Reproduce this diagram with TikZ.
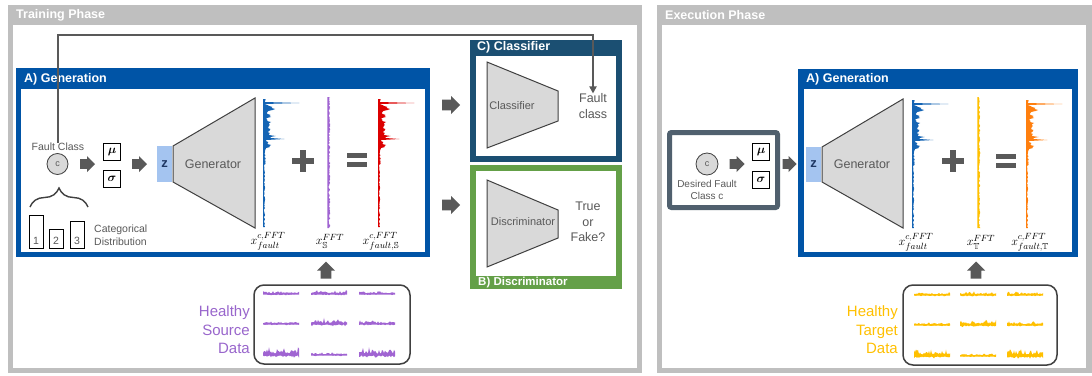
\documentclass[tikz,border=0pt]{standalone}
\usepackage{amsmath,amssymb}
\usepackage{fontspec}
\setmainfont{Liberation Sans}
\usetikzlibrary{decorations.pathreplacing,arrows.meta}

\definecolor{panelgray}{RGB}{191,191,191}
\definecolor{genblue}{RGB}{0,84,166}
\definecolor{clsteal}{RGB}{27,79,114}
\definecolor{discgreen}{RGB}{100,160,72}
\definecolor{slate}{RGB}{80,96,110}
\definecolor{arrowgray}{RGB}{89,89,89}
\definecolor{labelgray}{RGB}{89,89,89}
\definecolor{trapfill}{RGB}{217,217,217}
\definecolor{trapdraw}{RGB}{64,64,64}
\definecolor{zblue}{RGB}{164,196,240}
\definecolor{zdark}{RGB}{31,56,100}
\definecolor{sigblue}{RGB}{20,100,180}
\definecolor{sigpurple}{RGB}{160,100,210}
\definecolor{txtpurple}{RGB}{153,102,204}
\definecolor{sigred}{RGB}{220,0,0}
\definecolor{sigyellow}{RGB}{255,192,0}
\definecolor{sigorange}{RGB}{255,127,14}

% triangular bump of half-width w centred on c
\pgfmathdeclarefunction{tri}{3}{\pgfmathparse{max(0,1-abs(#1-#2)/#3)}}

% fault spectrum drawn downwards from (x0,ytop): x0, ytop, colour, seed
\newcommand{\faultspec}[4]{%
  \pgfmathsetseed{#4}%
  \fill[#3] (#1,#2) -- plot[domain=0:128, samples=129, variable=\t]
    ({#1 + 34*tri(\t,4,0.8) + 18*tri(\t,40,0.8)
       + (2.2 + 11*tri(\t,10,5) + 9*tri(\t,17,4) + 10*tri(\t,24,4) + 8*tri(\t,31,4)
          + 9*tri(\t,37,4) + 7*tri(\t,46,5) + 2.5*tri(\t,30,40))*(0.4+0.6*rnd)},
     {#2+\t})
    -- (#1,#2+128) -- cycle;}

% healthy spectrum: thin noisy line: x0, ytop, colour, seed
\newcommand{\healthspec}[4]{%
  \pgfmathsetseed{#4}%
  \fill[#3] (#1-0.7,#2) -- plot[domain=0:131, samples=132, variable=\t]
    ({#1+0.5+1.8*rnd},{#2+\t}) -- (#1-0.7,#2+131) -- cycle;}

% short horizontal time trace: x0, baseline y, amplitude, colour, seed
\newcommand{\healthtrace}[5]{%
  \pgfmathsetseed{#5}%
  \fill[#4] plot[domain=0:36, samples=37, variable=\t]
      ({#1+\t},{#2-0.5-#3*(0.12+0.88*rnd*rnd)})
    -- plot[domain=36:0, samples=37, variable=\t]
      ({#1+\t},{#2+0.5+0.3*#3*rnd*rnd}) -- cycle;}

% solid block arrow: name, centre, direction angle, length, width
\newcommand{\blockarrow}[5]{%
  \coordinate (#1) at (#2);
  \fill[arrowgray, shift={(#2)}, rotate=#3]
    (-#4/2,-0.3*#5) -- (#4/2-0.5*#5,-0.3*#5) -- (#4/2-0.5*#5,-0.5*#5) -- (#4/2,0)
    -- (#4/2-0.5*#5,0.5*#5) -- (#4/2-0.5*#5,0.3*#5) -- (-#4/2,0.3*#5) -- cycle;}

\tikzset{
  phasetitle/.style={font=\fontsize{12.5}{14}\selectfont\bfseries, text=white, anchor=west, inner sep=0pt},
  boxtitle/.style={font=\fontsize{12.5}{14}\selectfont\bfseries, text=white, anchor=west, inner sep=0pt},
  lbl/.style={font=\fontsize{10.5}{12.5}\selectfont, text=labelgray, inner sep=0pt, align=center},
  biglbl/.style={font=\fontsize{12.5}{15.5}\selectfont, text=labelgray, inner sep=0pt, align=center},
  netlbl/.style={font=\fontsize{11}{13}\selectfont, text=labelgray, inner sep=0pt},
  gentext/.style={font=\fontsize{12.5}{14}\selectfont, text=labelgray, inner sep=0pt},
  datalbl/.style={font=\fontsize{15}{18.5}\selectfont, inner sep=0pt, align=right, anchor=east},
  cnode/.style={circle, fill=trapfill, draw=trapdraw, line width=0.8pt, minimum size=21pt,
    inner sep=0pt, font=\fontsize{9}{9}\selectfont, text=labelgray},
  parbox/.style={draw=black, line width=0.9pt, fill=white, minimum size=17pt, inner sep=0pt,
    font=\fontsize{13}{13}\selectfont},
  zbox/.style={fill=zblue, minimum width=15pt, minimum height=36pt, inner sep=0pt,
    font=\fontsize{13}{13}\selectfont\bfseries, text=zdark},
  trap/.style={fill=trapfill, draw=trapdraw, line width=1pt, line join=miter},
  databox/.style={draw=trapdraw, line width=1.5pt, rounded corners=10pt, inner sep=0pt},
  mathlbl/.style={font=\fontsize{12.5}{14}\selectfont, inner sep=0pt},
  feedback/.style={draw=arrowgray, line width=2pt, -{Triangle[length=7pt,width=7pt]}},
}

\begin{document}
\begin{tikzpicture}[x=1pt, y=-1pt]
\useasboundingbox (0,0) rectangle (1092,375);

% ---------------- training phase panel ----------------
\fill[panelgray] (8,5) rectangle (642,373);
\fill[white] (13,25) rectangle (637,368);
\node[phasetitle] (trainT) at (16,15) {Training Phase};

% generation block
\fill[genblue] (16,68) rectangle (430,257);
\fill[white] (21,89) rectangle (425,252);
\node[boxtitle] (genT) at (24,79) {A) Generation};

% classifier block
\fill[clsteal] (470,40) rectangle (622,162);
\fill[white] (476,56) rectangle (616,156);
\node[boxtitle] (clsT) at (477,47) {C) Classifier};

% discriminator block
\fill[discgreen] (470,165) rectangle (622,289);
\fill[white] (476,171) rectangle (616,276);
\node[boxtitle, font=\fontsize{11.5}{13}\selectfont\bfseries] (discT) at (478,283) {B) Discriminator};

% fault class input and categorical distribution
\node[lbl] (fcl) at (58,147) {Fault Class};
\node[cnode] (c1) at (57.5,164) {c};
\draw[decorate, decoration={brace, amplitude=19pt}, draw=trapdraw, line width=1.4pt]
  (30,207) -- (88,207);
\draw[black, line width=0.9pt] (29,215) rectangle (43,248);
\draw[black, line width=0.9pt] (49,229) rectangle (63,248);
\draw[black, line width=0.9pt] (70,221) rectangle (84,248);
\node[lbl] (n1) at (36,241) {1};
\node[lbl] (n2) at (56,241) {2};
\node[lbl] (n3) at (77,241) {3};
\node[lbl, align=left, anchor=west] (catd) at (94,235) {Categorical\\Distribution};

% latent sampling and generator
\blockarrow{a1}{87.5,164}{0}{15}{16}
\node[parbox] (mu1) at (112,151.5) {$\boldsymbol{\mu}$};
\node[parbox] (sg1) at (112,179) {$\boldsymbol{\sigma}$};
\blockarrow{a2}{139.5,164}{0}{15}{16}
\node[zbox] (z1) at (164.5,164) {z};
\draw[trap] (173,146) -- (255,98) -- (255,228) -- (173,182) -- cycle;
\node[gentext] (g1) at (213,164) {Generator};

% spectra
\faultspec{263}{99}{sigblue}{11}
\healthspec{328}{97}{sigpurple}{5}
\faultspec{378}{99}{sigred}{11}
\fill[arrowgray] (292,158) rectangle (314,164);
\fill[arrowgray] (300,150) rectangle (306,172);
\fill[arrowgray] (347,153) rectangle (367,158);
\fill[arrowgray] (347,162) rectangle (367,167);
\node[mathlbl] (lf1) at (268,241) {$x^{c,FFT}_{fault}$};
\node[mathlbl] (ls1) at (330,241) {$x^{FFT}_{\mathbb{S}}$};
\node[mathlbl] (lr1) at (381,241) {$x^{c,FFT}_{fault,\mathbb{S}}$};

% arrows into the classifier and the discriminator
\blockarrow{toC}{451,105}{0}{18}{18}
\blockarrow{toD}{451,205}{0}{18}{18}

% classifier
\draw[trap] (487,62) -- (558,91) -- (558,121) -- (487,148) -- cycle;
\node[netlbl] (clsN) at (512,106) {Classifier};
\node[biglbl] (fclass) at (593,106) {Fault\\class};

% discriminator
\draw[trap] (487,180) -- (558,210) -- (558,238) -- (487,267) -- cycle;
\node[netlbl] (discN) at (523,222) {Discriminator};
\node[biglbl] (tof) at (588,222) {True\\or\\Fake?};

% label feedback from the fault class to the classifier
\coordinate (fbtop) at (0,35);
\draw[feedback] (fcl.north) -- (fcl.north |- fbtop) -- (fclass.north |- fbtop) -- (fclass.north);

% healthy source data
\blockarrow{up1}{326,270}{90}{17}{18}
\node[databox, minimum width=156pt, minimum height=79pt] (src) at (332,324.5) {};
\node[datalbl, text=txtpurple] (srcT) at (250,330) {Healthy\\Source\\Data};
\healthtrace{263}{294}{3}{sigpurple}{21}
\healthtrace{311}{294}{4}{sigpurple}{22}
\healthtrace{359}{294}{3}{sigpurple}{23}
\healthtrace{263}{324}{2.5}{sigpurple}{24}
\healthtrace{311}{324}{6}{sigpurple}{25}
\healthtrace{359}{324}{3.5}{sigpurple}{26}
\healthtrace{263}{355}{8}{sigpurple}{27}
\healthtrace{311}{355}{2.5}{sigpurple}{28}
\healthtrace{359}{355}{8}{sigpurple}{29}

% ---------------- execution phase panel ----------------
\fill[panelgray] (657,5) rectangle (1092,373);
\fill[white] (662,25) rectangle (1086,368);
\node[phasetitle] (execT) at (665,15) {Execution Phase};

% desired fault class block
\draw[slate, line width=5pt, rounded corners=2pt, fill=white] (669.5,132.5) rectangle (777.5,207.5);
\node[cnode, minimum size=22pt] (c2) at (707,164) {c};
\node[lbl, font=\fontsize{10}{12.5}\selectfont] (dfc) at (707,190) {Desired Fault\\Class c};
\blockarrow{a3}{737,164}{0}{15}{16}
\node[parbox] (mu2) at (761,152) {$\boldsymbol{\mu}$};
\node[parbox] (sg2) at (761,179.5) {$\boldsymbol{\sigma}$};
\blockarrow{a4}{789.5,164}{0}{14}{16}

% generation block
\fill[genblue] (798,69) rectangle (1078,257);
\fill[white] (804,89) rectangle (1072,252);
\node[boxtitle] (genT2) at (806,79) {A) Generation};
\node[zbox, minimum height=35pt] (z2) at (813.5,164.5) {z};
\draw[trap] (822,147) -- (903,99) -- (903,228) -- (822,182) -- cycle;
\node[gentext] (g2) at (862,164) {Generator};

\faultspec{912}{100}{sigblue}{11}
\healthspec{978}{97}{sigyellow}{6}
\faultspec{1026}{100}{sigorange}{11}
\fill[arrowgray] (942,158) rectangle (964,164);
\fill[arrowgray] (950,150) rectangle (956,172);
\fill[arrowgray] (996,154) rectangle (1016,159);
\fill[arrowgray] (996,163) rectangle (1016,168);
\node[mathlbl] (lf2) at (916,242) {$x^{c,FFT}_{fault}$};
\node[mathlbl] (lt2) at (981,242) {$x^{FFT}_{\mathbb{T}}$};
\node[mathlbl] (lo2) at (1030,242) {$x^{c,FFT}_{fault,\mathbb{T}}$};

% healthy target data
\blockarrow{up2}{976,270}{90}{17}{18}
\node[databox, minimum width=154pt, minimum height=80pt] (tgt) at (980,325) {};
\node[datalbl, text=sigyellow] (tgtT) at (898,330) {Healthy\\Target\\Data};
\healthtrace{914}{295}{3}{sigyellow}{31}
\healthtrace{960}{295}{4}{sigyellow}{32}
\healthtrace{1007}{295}{3}{sigyellow}{33}
\healthtrace{914}{325}{2.5}{sigyellow}{34}
\healthtrace{960}{325}{6}{sigyellow}{35}
\healthtrace{1007}{325}{3.5}{sigyellow}{36}
\healthtrace{914}{356}{8}{sigyellow}{37}
\healthtrace{960}{356}{2.5}{sigyellow}{38}
\healthtrace{1007}{356}{8}{sigyellow}{39}
\end{tikzpicture}
\end{document}
